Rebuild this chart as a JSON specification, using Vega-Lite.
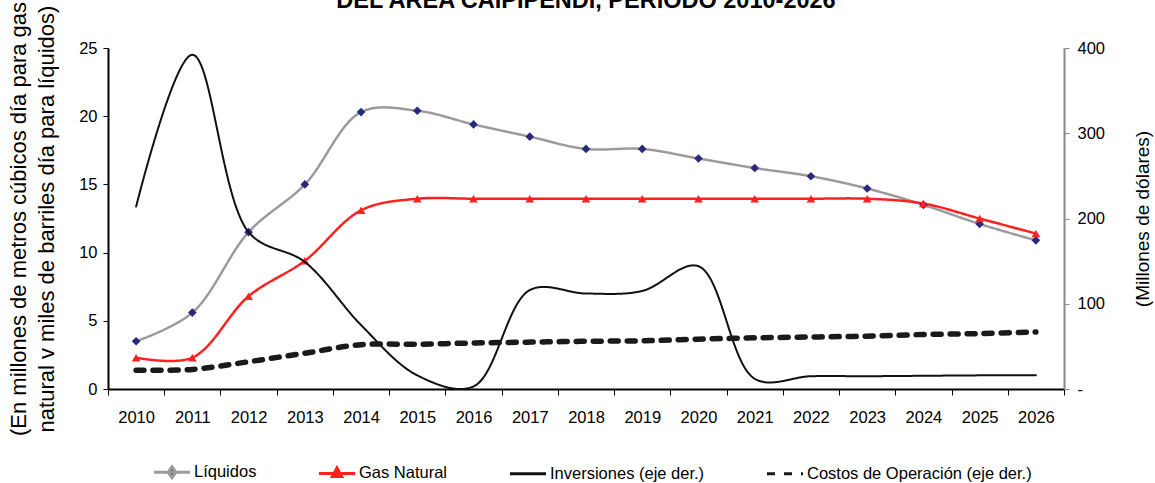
{
  "$schema": "https://vega.github.io/schema/vega-lite/v6.json",
  "autosize": "none",
  "width": 956,
  "height": 341,
  "padding": {"left": 108, "top": 48, "right": 91, "bottom": 94},
  "background": "white",
  "title": {
    "text": "DEL AREA CAIPIPENDI, PERIODO 2010-2026",
    "font": "Liberation Sans",
    "fontSize": 23.5,
    "fontWeight": "bold",
    "color": "#000000",
    "anchor": "middle",
    "baseline": "alphabetic",
    "offset": 0,
    "dy": 30
  },
  "config": {
    "view": {"stroke": null},
    "axis": {"grid": false, "labelFont": "Liberation Sans", "labelFontSize": 16.5, "labelColor": "#000000", "titleFont": "Liberation Sans", "titleFontWeight": "normal", "titleColor": "#000000"}
  },
  "data": {"values": [
    {"year": "2010", "series": "Líquidos", "value": 3.5},
    {"year": "2011", "series": "Líquidos", "value": 5.6},
    {"year": "2012", "series": "Líquidos", "value": 11.5},
    {"year": "2013", "series": "Líquidos", "value": 15.0},
    {"year": "2014", "series": "Líquidos", "value": 20.3},
    {"year": "2015", "series": "Líquidos", "value": 20.4},
    {"year": "2016", "series": "Líquidos", "value": 19.4},
    {"year": "2017", "series": "Líquidos", "value": 18.5},
    {"year": "2018", "series": "Líquidos", "value": 17.6},
    {"year": "2019", "series": "Líquidos", "value": 17.6},
    {"year": "2020", "series": "Líquidos", "value": 16.9},
    {"year": "2021", "series": "Líquidos", "value": 16.2},
    {"year": "2022", "series": "Líquidos", "value": 15.6},
    {"year": "2023", "series": "Líquidos", "value": 14.7},
    {"year": "2024", "series": "Líquidos", "value": 13.5},
    {"year": "2025", "series": "Líquidos", "value": 12.1},
    {"year": "2026", "series": "Líquidos", "value": 10.9},
    {"year": "2010", "series": "Gas Natural", "value": 2.3},
    {"year": "2011", "series": "Gas Natural", "value": 2.3},
    {"year": "2012", "series": "Gas Natural", "value": 6.8},
    {"year": "2013", "series": "Gas Natural", "value": 9.4},
    {"year": "2014", "series": "Gas Natural", "value": 13.1},
    {"year": "2015", "series": "Gas Natural", "value": 13.95},
    {"year": "2016", "series": "Gas Natural", "value": 13.95},
    {"year": "2017", "series": "Gas Natural", "value": 13.95},
    {"year": "2018", "series": "Gas Natural", "value": 13.95},
    {"year": "2019", "series": "Gas Natural", "value": 13.95},
    {"year": "2020", "series": "Gas Natural", "value": 13.95},
    {"year": "2021", "series": "Gas Natural", "value": 13.95},
    {"year": "2022", "series": "Gas Natural", "value": 13.95},
    {"year": "2023", "series": "Gas Natural", "value": 13.95},
    {"year": "2024", "series": "Gas Natural", "value": 13.6},
    {"year": "2025", "series": "Gas Natural", "value": 12.5},
    {"year": "2026", "series": "Gas Natural", "value": 11.4},
    {"year": "2010", "series": "Inversiones (eje der.)", "value": 214},
    {"year": "2011", "series": "Inversiones (eje der.)", "value": 392},
    {"year": "2012", "series": "Inversiones (eje der.)", "value": 184},
    {"year": "2013", "series": "Inversiones (eje der.)", "value": 149},
    {"year": "2014", "series": "Inversiones (eje der.)", "value": 75},
    {"year": "2015", "series": "Inversiones (eje der.)", "value": 16},
    {"year": "2016", "series": "Inversiones (eje der.)", "value": 3},
    {"year": "2017", "series": "Inversiones (eje der.)", "value": 116},
    {"year": "2018", "series": "Inversiones (eje der.)", "value": 112},
    {"year": "2019", "series": "Inversiones (eje der.)", "value": 115},
    {"year": "2020", "series": "Inversiones (eje der.)", "value": 144},
    {"year": "2021", "series": "Inversiones (eje der.)", "value": 12},
    {"year": "2022", "series": "Inversiones (eje der.)", "value": 15},
    {"year": "2023", "series": "Inversiones (eje der.)", "value": 15},
    {"year": "2024", "series": "Inversiones (eje der.)", "value": 15.5},
    {"year": "2025", "series": "Inversiones (eje der.)", "value": 16},
    {"year": "2026", "series": "Inversiones (eje der.)", "value": 16},
    {"year": "2010", "series": "Costos de Operación (eje der.)", "value": 22},
    {"year": "2011", "series": "Costos de Operación (eje der.)", "value": 23},
    {"year": "2012", "series": "Costos de Operación (eje der.)", "value": 32},
    {"year": "2013", "series": "Costos de Operación (eje der.)", "value": 42},
    {"year": "2014", "series": "Costos de Operación (eje der.)", "value": 52},
    {"year": "2015", "series": "Costos de Operación (eje der.)", "value": 52.5},
    {"year": "2016", "series": "Costos de Operación (eje der.)", "value": 54},
    {"year": "2017", "series": "Costos de Operación (eje der.)", "value": 55},
    {"year": "2018", "series": "Costos de Operación (eje der.)", "value": 56},
    {"year": "2019", "series": "Costos de Operación (eje der.)", "value": 56.5},
    {"year": "2020", "series": "Costos de Operación (eje der.)", "value": 58.5},
    {"year": "2021", "series": "Costos de Operación (eje der.)", "value": 60},
    {"year": "2022", "series": "Costos de Operación (eje der.)", "value": 61},
    {"year": "2023", "series": "Costos de Operación (eje der.)", "value": 62},
    {"year": "2024", "series": "Costos de Operación (eje der.)", "value": 64},
    {"year": "2025", "series": "Costos de Operación (eje der.)", "value": 65},
    {"year": "2026", "series": "Costos de Operación (eje der.)", "value": 67}
  ]},
  "encoding": {
    "x": {
      "field": "year", "type": "ordinal",
      "scale": {"type": "band", "paddingInner": 0, "paddingOuter": 0},
      "axis": {"title": null, "labelAngle": 0, "tickBand": "extent", "domainColor": "#000000", "domainWidth": 2, "tickColor": "#000000", "tickSize": 6, "labelPadding": 14}
    }
  },
  "layer": [
    {
      "layer": [
        {
          "transform": [{"filter": "datum.series == 'Líquidos' || datum.series == 'Gas Natural'"}],
          "mark": {"type": "line", "interpolate": "catmull-rom", "strokeWidth": 2.5},
          "encoding": {
            "y": {
              "field": "value", "type": "quantitative",
              "scale": {"domain": [0, 25]},
              "axis": {"title": ["(En millones de metros cúbicos día para gas", "natural v miles de barriles día para líquidos)"], "titleFontSize": 22, "titleLineHeight": 28, "titlePadding": 20, "values": [0, 5, 10, 15, 20, 25], "domainColor": "#000000", "domainWidth": 2, "tickColor": "#000000", "tickSize": 5, "labelPadding": 6}
            },
            "color": {
              "field": "series", "type": "nominal",
              "scale": {"domain": ["Líquidos", "Gas Natural", "Inversiones (eje der.)", "Costos de Operación (eje der.)"], "range": ["#9b9b9b", "#ff2020", "#111111", "#1a1a1a"]},
              "legend": {
                "title": null, "orient": "none", "legendX": 44, "legendY": 404, "direction": "horizontal", "symbolType": "stroke", "symbolSize": 1300, "symbolStrokeWidth": 3, "labelFont": "Liberation Sans", "labelFontSize": 16.5, "labelColor": "#000000", "labelOffset": 2, "labelLimit": 400, "columnPadding": 55,
                "encode": {
                  "symbols": {
                    "update": {
                      "shape": {"signal": "datum.value == 'Líquidos' ? 'M-1,0L1,0M0,-0.3L0.22,0L0,0.3L-0.22,0Z' : datum.value == 'Gas Natural' ? 'M-1,0L1,0M0,-0.3L0.26,0.18L-0.26,0.18Z' : 'M-1,0L1,0'"},
                      "fill": {"signal": "datum.value == 'Líquidos' ? '#27297a' : datum.value == 'Gas Natural' ? '#ff2020' : 'transparent'"}
                    }
                  }
                }
              }
            },
            "strokeDash": {
              "field": "series", "type": "nominal",
              "scale": {"domain": ["Líquidos", "Gas Natural", "Inversiones (eje der.)", "Costos de Operación (eje der.)"], "range": [[1, 0], [1, 0], [1, 0], [8, 9]]},
              "legend": {
                "title": null, "orient": "none", "legendX": 44, "legendY": 404, "direction": "horizontal", "symbolType": "stroke", "symbolSize": 1300, "symbolStrokeWidth": 3, "labelFont": "Liberation Sans", "labelFontSize": 16.5, "labelColor": "#000000", "labelOffset": 2, "labelLimit": 400, "columnPadding": 55,
                "encode": {
                  "symbols": {
                    "update": {
                      "shape": {"signal": "datum.value == 'Líquidos' ? 'M-1,0L1,0M0,-0.3L0.22,0L0,0.3L-0.22,0Z' : datum.value == 'Gas Natural' ? 'M-1,0L1,0M0,-0.3L0.26,0.18L-0.26,0.18Z' : 'M-1,0L1,0'"},
                      "fill": {"signal": "datum.value == 'Líquidos' ? '#27297a' : datum.value == 'Gas Natural' ? '#ff2020' : 'transparent'"}
                    }
                  }
                }
              }
            }
          }
        },
        {
          "transform": [{"filter": "datum.series == 'Líquidos' || datum.series == 'Gas Natural'"}],
          "mark": {"type": "point", "filled": true, "opacity": 1, "size": 75},
          "encoding": {
            "y": {"field": "value", "type": "quantitative", "scale": {"domain": [0, 25]}},
            "shape": {"field": "series", "type": "nominal", "scale": {"domain": ["Líquidos", "Gas Natural"], "range": ["diamond", "triangle-up"]}, "legend": null},
            "fill": {"field": "series", "type": "nominal", "scale": {"domain": ["Líquidos", "Gas Natural"], "range": ["#27297a", "#ff2020"]}, "legend": null}
          }
        }
      ]
    },
    {
      "transform": [{"filter": "datum.series != 'Líquidos' && datum.series != 'Gas Natural'"}],
      "mark": {"type": "line", "interpolate": "catmull-rom", "strokeCap": "round"},
      "encoding": {
        "y": {
          "field": "value", "type": "quantitative",
          "scale": {"domain": [0, 400]},
          "axis": {"orient": "right", "title": "(Millones de dólares)", "titleFontSize": 19, "titleAngle": 270, "titlePadding": 48, "values": [0, 100, 200, 300, 400], "labelExpr": "datum.value == 0 ? '-' : datum.label", "domainColor": "#888888", "domainWidth": 2, "tickColor": "#888888", "tickSize": 5, "labelPadding": 8}
        },
        "color": {"field": "series", "type": "nominal"},
        "strokeDash": {"field": "series", "type": "nominal"},
        "strokeWidth": {"field": "series", "type": "nominal", "scale": {"domain": ["Inversiones (eje der.)", "Costos de Operación (eje der.)"], "range": [2, 5.5]}, "legend": null}
      }
    }
  ],
  "resolve": {"scale": {"y": "independent"}}
}
